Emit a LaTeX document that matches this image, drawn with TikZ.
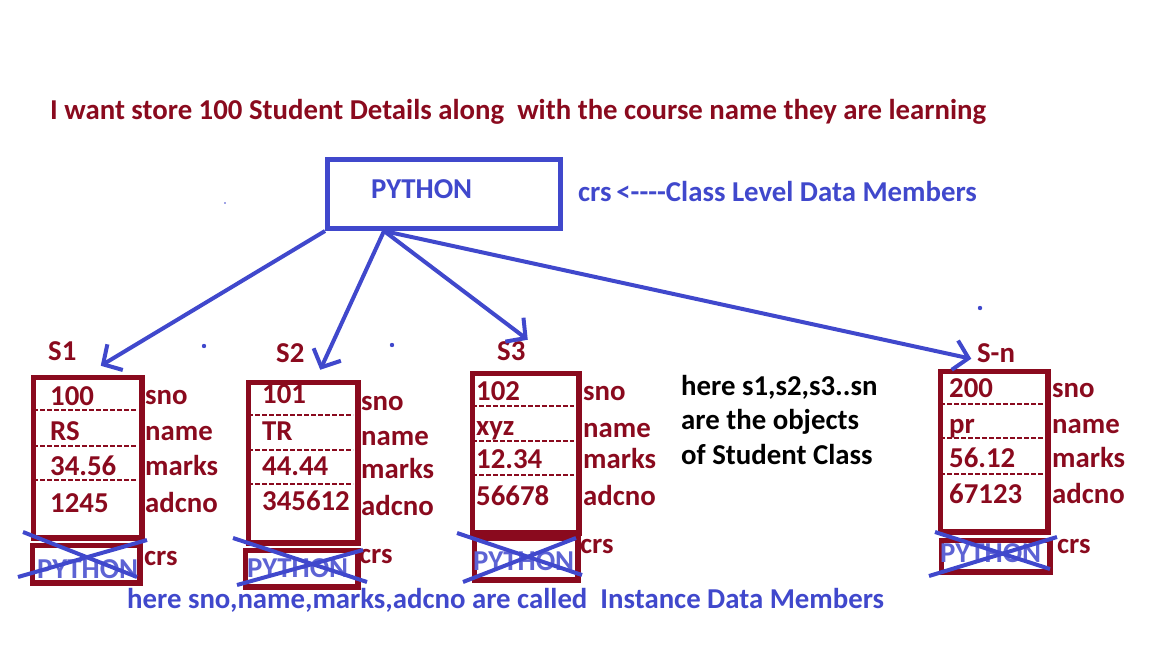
\documentclass[tikz,border=0pt]{standalone}
\usepackage{fontspec}
\setmainfont{Carlito}
\usepackage{tikz}
\usetikzlibrary{arrows.meta, positioning}

\definecolor{darkred}{HTML}{8A0A1E}
\definecolor{penblue}{HTML}{4048CC}

\begin{document}
\begin{tikzpicture}[
  x=1pt, y=-1pt,
  txt/.style={anchor=base west, inner sep=0pt, font=\fontsize{28.8}{32}\selectfont\bfseries},
  redtxt/.style={txt, text=darkred},
  bluetxt/.style={txt, text=penblue},
  blacktxt/.style={txt, text=black},
  fadetxt/.style={txt, text=penblue!85},
  objbox/.style={rectangle, draw=darkred, line width=5.5pt, inner sep=0pt, anchor=north west,
                 xshift=2.75pt, yshift=-2.75pt},
  pybox/.style={rectangle, draw=penblue, line width=5pt, inner sep=0pt,
               minimum width=233pt, minimum height=69pt},
  dashrow/.style={draw=darkred, line width=2.3pt, dash pattern=on 5pt off 2pt},
  cross/.style={draw=penblue, line width=4pt},
  arrow/.style={-{Straight Barb[length=14pt, width=30pt, line width=4pt]}, penblue, line width=4pt}
]
\useasboundingbox (0,0) rectangle (1152,648);

% title
\node[redtxt] (title) at (50,119) {I want store 100 Student Details along\ \ with the course name they are learning};

% class level member
\node[pybox] (py) at (444,194) {};
\node[bluetxt] (pytxt) at (371,198) {PYTHON};
\node[bluetxt] (clsnote) at (578,201) {crs\,{<}-{}-{}-{}-Class Level Data Members};
\coordinate (hub) at ([xshift=-60pt]py.south);

% object S1
\node[redtxt] (s1lab) at (48,360) {S1};
\node[objbox, minimum width=108.5pt, minimum height=160.5pt] (s1) at (28,372) {};
\node[objbox, minimum width=107.5pt, minimum height=37.5pt] (s1c) at (27,540) {};
\draw[dashrow] (33,410) -- (137,410);
\draw[dashrow] (33,446) -- (137,446);
\draw[dashrow] (33,480) -- (137,480);
\node[redtxt] (s1v1) at (50,405) {100};
\node[redtxt] (s1v2) at (50,440) {RS};
\node[redtxt] (s1v3) at (50,475) {34.56};
\node[redtxt] (s1v4) at (50,512) {1245};
\node[redtxt] (s1f1) at (145,404) {sno};
\node[redtxt] (s1f2) at (145,440) {name};
\node[redtxt] (s1f3) at (145,475) {marks};
\node[redtxt] (s1f4) at (145,512) {adcno};
\node[fadetxt] (s1crs) at (37,578) {PYTHON};
\node[redtxt] (s1f5) at (144,565) {crs};
\draw[cross] (23,532) -- (137,577);
\draw[cross] (18,577) -- (147,540);

% object S2
\node[redtxt] (s2lab) at (276,362) {S2};
\node[objbox, minimum width=109.5pt, minimum height=160.5pt] (s2) at (243,377) {};
\node[objbox, minimum width=112.5pt, minimum height=36.5pt] (s2c) at (240,545) {};
\draw[dashrow] (248,415) -- (353,415);
\draw[dashrow] (248,450) -- (353,450);
\draw[dashrow] (248,484) -- (353,484);
\node[redtxt] (s2v1) at (262,403) {101};
\node[redtxt] (s2v2) at (262,440) {TR};
\node[redtxt] (s2v3) at (262,475) {44.44};
\node[redtxt] (s2v4) at (262,510) {345612};
\node[redtxt] (s2f1) at (361,410) {sno};
\node[redtxt] (s2f2) at (361,445) {name};
\node[redtxt] (s2f3) at (361,478) {marks};
\node[redtxt] (s2f4) at (361,515) {adcno};
\node[fadetxt] (s2crs) at (247,577) {PYTHON};
\node[redtxt] (s2f5) at (359,563) {crs};
\draw[cross] (233,538) -- (367,582);
\draw[cross] (237,585) -- (363,550);

% object S3
\node[redtxt] (s3lab) at (497,360) {S3};
\node[objbox, minimum width=106.5pt, minimum height=159.5pt] (s3) at (467,368) {};
\node[objbox, minimum width=103.5pt, minimum height=41.5pt] (s3c) at (469,533) {};
\draw[dashrow] (472,406) -- (574,406);
\draw[dashrow] (472,441) -- (574,441);
\draw[dashrow] (472,475) -- (574,475);
\node[redtxt] (s3v1) at (476,400) {102};
\node[redtxt] (s3v2) at (476,435) {xyz};
\node[redtxt] (s3v3) at (476,468) {12.34};
\node[redtxt] (s3v4) at (476,505) {56678};
\node[redtxt] (s3f1) at (583,400) {sno};
\node[redtxt] (s3f2) at (583,437) {name};
\node[redtxt] (s3f3) at (583,468) {marks};
\node[redtxt] (s3f4) at (583,505) {adcno};
\node[fadetxt] (s3crs) at (473,570) {PYTHON};
\node[redtxt] (s3f5) at (580,553) {crs};
\draw[cross] (457,533) -- (582,575);
\draw[cross] (463,582) -- (576,538);

% note on objects
\node[blacktxt] (objnote1) at (681,395) {here s1,s2,s3..sn};
\node[blacktxt] (objnote2) at (681,429) {are the objects};
\node[blacktxt] (objnote3) at (681,464) {of Student Class};

% object S-n
\node[redtxt] (snlab) at (977,362) {S-n};
\node[objbox, minimum width=107.5pt, minimum height=160.5pt] (sn) at (935,366) {};
\node[objbox, minimum width=108.5pt, minimum height=31.5pt] (snc) at (936,535) {};
\draw[dashrow] (940,404) -- (1043,404);
\draw[dashrow] (940,438) -- (1043,438);
\draw[dashrow] (940,474) -- (1043,474);
\node[redtxt] (snv1) at (949,397) {200};
\node[redtxt] (snv2) at (949,433) {pr};
\node[redtxt] (snv3) at (949,467) {56.12};
\node[redtxt] (snv4) at (949,503) {67123};
\node[redtxt] (snf1) at (1052,397) {sno};
\node[redtxt] (snf2) at (1052,433) {name};
\node[redtxt] (snf3) at (1052,467) {marks};
\node[redtxt] (snf4) at (1052,503) {adcno};
\node[fadetxt] (sncrs) at (940,562) {PYTHON};
\node[redtxt] (snf5) at (1057,553) {crs};
\draw[cross] (935,532) -- (1050,569);
\draw[cross] (929,576) -- (1057,537);

% instance note
\node[bluetxt] (instnote) at (127,608) {here sno,name,marks,adcno are called\ \ Instance Data Members};

% stray dots
\fill[penblue] (225,203) circle (0.8pt);
\fill[penblue] (204,346) circle (2.2pt);
\fill[penblue] (392,345) circle (2.2pt);
\fill[penblue] (980,308) circle (2.2pt);

\draw[arrow] (py.south west) -- ([xshift=13pt, yshift=9pt]s1.north);
\draw[arrow] (hub) -- ([xshift=17pt, yshift=10pt]s2.north);
\draw[arrow] (hub) -- ([xshift=2pt, yshift=31pt]s3.north);
\draw[arrow] (hub) -- ([xshift=-23pt, yshift=10pt]sn.north);

\end{tikzpicture}
\end{document}
